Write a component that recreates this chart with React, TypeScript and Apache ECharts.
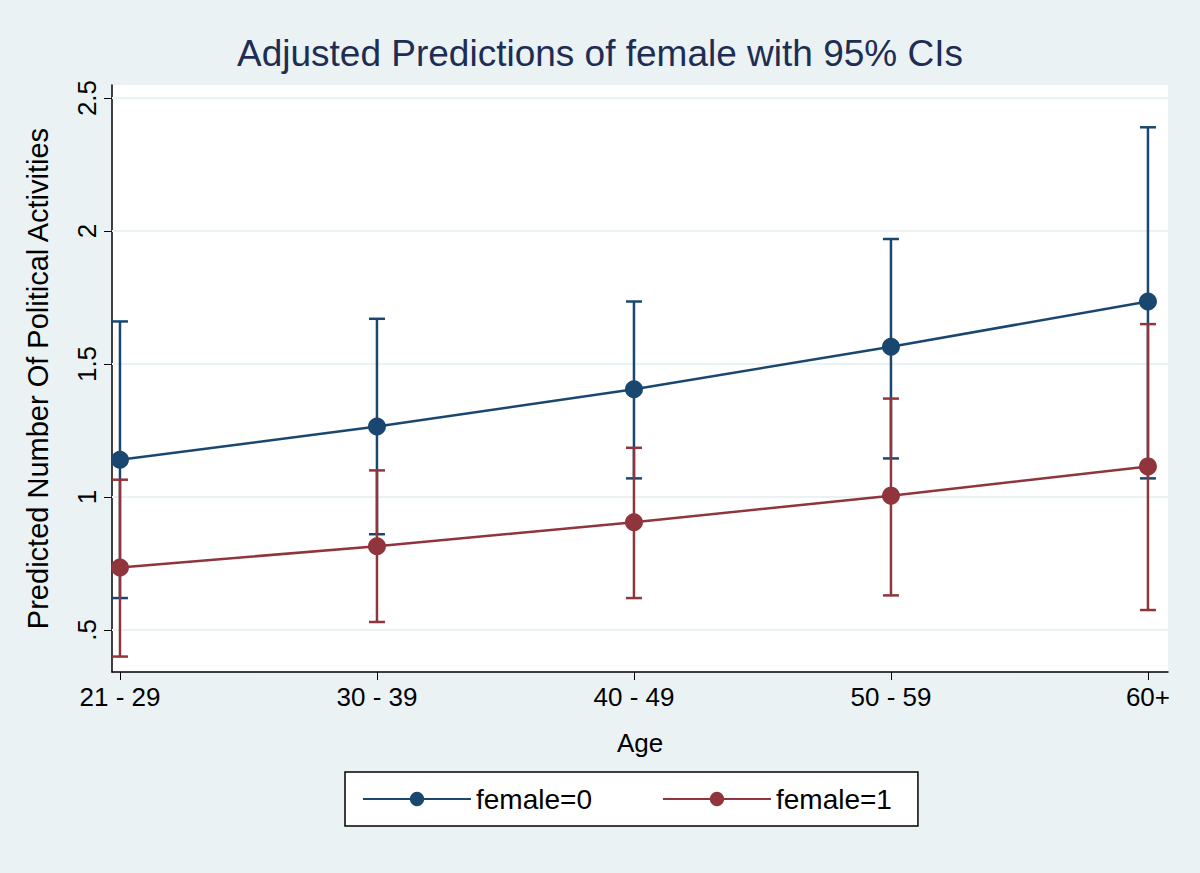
import { useEffect, useRef } from "react"
import * as echarts from "echarts"

const ageGroups = ["21 - 29", "30 - 39", "40 - 49", "50 - 59", "60+"]
const yTicks = [0.5, 1, 1.5, 2, 2.5]

const male = [1.14, 1.265, 1.405, 1.565, 1.735]
const maleLow = [0.62, 0.86, 1.07, 1.145, 1.07]
const maleHigh = [1.66, 1.67, 1.735, 1.97, 2.39]

const female = [0.735, 0.815, 0.905, 1.005, 1.115]
const femaleLow = [0.4, 0.53, 0.62, 0.63, 0.575]
const femaleHigh = [1.065, 1.1, 1.185, 1.37, 1.65]

const navy = "#1a476f"
const maroon = "#90353b"
const font = "Liberation Sans, Arial, sans-serif"

function errorBars(name: string, low: number[], high: number[], color: string) {
  return {
    name,
    type: "custom",
    z: 2,
    silent: true,
    data: low.map((l, i) => [i, l, high[i]]),
    renderItem: (_params: any, api: any) => {
      const x = api.value(0)
      const a = api.coord([x, api.value(1)])
      const b = api.coord([x, api.value(2)])
      const w = 8
      const style = { stroke: color, lineWidth: 2.5 }
      return {
        type: "group",
        children: [
          { type: "line", shape: { x1: a[0], y1: a[1], x2: b[0], y2: b[1] }, style },
          { type: "line", shape: { x1: a[0] - w, y1: a[1], x2: a[0] + w, y2: a[1] }, style },
          { type: "line", shape: { x1: b[0] - w, y1: b[1], x2: b[0] + w, y2: b[1] }, style },
        ],
      }
    },
  }
}

export default function App() {
  const ref = useRef<HTMLDivElement>(null)

  useEffect(() => {
    if (!ref.current) return
    const chart = echarts.init(ref.current, null, { renderer: "svg" })
    chart.setOption({
      animation: false,
      backgroundColor: "#eaf2f3",
      textStyle: { fontFamily: font },
      title: {
        text: "Adjusted Predictions of female with 95% CIs",
        left: "center",
        top: 30,
        textStyle: { fontSize: 37, fontWeight: "normal", color: "#1e2d53", fontFamily: font },
      },
      grid: { left: 112, right: 32, top: 85, bottom: 201, show: true, backgroundColor: "#ffffff", borderWidth: 0 },
      xAxis: {
        type: "value",
        min: -0.031,
        max: 4.078,
        name: "Age",
        nameLocation: "middle",
        nameGap: 58,
        nameTextStyle: { fontSize: 26, color: "#000" },
        axisLine: { show: true, onZero: false, lineStyle: { color: "#000", width: 1.5 } },
        axisTick: { show: true, length: 8, customValues: [0, 1, 2, 3, 4], lineStyle: { color: "#000" } },
        axisLabel: {
          fontSize: 26,
          color: "#000",
          margin: 12,
          customValues: [0, 1, 2, 3, 4],
          formatter: (v: number) => ageGroups[Math.round(v)] ?? "",
        },
        splitLine: { show: false },
      },
      yAxis: {
        type: "value",
        min: 0.342,
        max: 2.549,
        name: "Predicted Number Of Political Activities",
        nameLocation: "middle",
        nameGap: 60,
        nameTextStyle: { fontSize: 29, color: "#000" },
        axisLine: { show: true, onZero: false, lineStyle: { color: "#000", width: 1.5 } },
        axisTick: { show: true, length: 8, customValues: yTicks, lineStyle: { color: "#000" } },
        axisLabel: {
          fontSize: 26,
          color: "#000",
          rotate: 90,
          margin: 12,
          customValues: yTicks,
          formatter: (v: number) => (v === 0.5 ? ".5" : String(v)),
        },
        splitLine: { show: false },
      },
      legend: {
        left: 345,
        top: 772,
        width: 600,
        padding: [13, 26, 13, 17],
        itemGap: 70,
        itemWidth: 108,
        itemHeight: 18,
        backgroundColor: "#ffffff",
        borderColor: "#000",
        borderWidth: 1.5,
        borderRadius: 0,
        data: ["female=0", "female=1"],
        textStyle: { fontSize: 28, color: "#000", fontFamily: font },
      },
      series: [
        errorBars("ci0", maleLow, maleHigh, navy),
        errorBars("ci1", femaleLow, femaleHigh, maroon),
        {
          name: "female=0",
          type: "line",
          z: 3,
          data: male.map((v, i) => [i, v]),
          symbol: "circle",
          symbolSize: 18,
          itemStyle: { color: navy },
          lineStyle: { color: navy, width: 2.5 },
          markLine: {
            silent: true,
            symbol: "none",
            z: 1,
            label: { show: false },
            lineStyle: { color: "#eaf2f3", width: 2, type: "solid" },
            data: yTicks.map(v => ({ yAxis: v })),
          },
        },
        {
          name: "female=1",
          type: "line",
          z: 3,
          data: female.map((v, i) => [i, v]),
          symbol: "circle",
          symbolSize: 18,
          itemStyle: { color: maroon },
          lineStyle: { color: maroon, width: 2.5 },
        },
      ],
    })
    return () => chart.dispose()
  }, [])

  return <div ref={ref} style={{ position: "absolute", left: 0, top: 0, width: 1200, height: 873 }} />
}
